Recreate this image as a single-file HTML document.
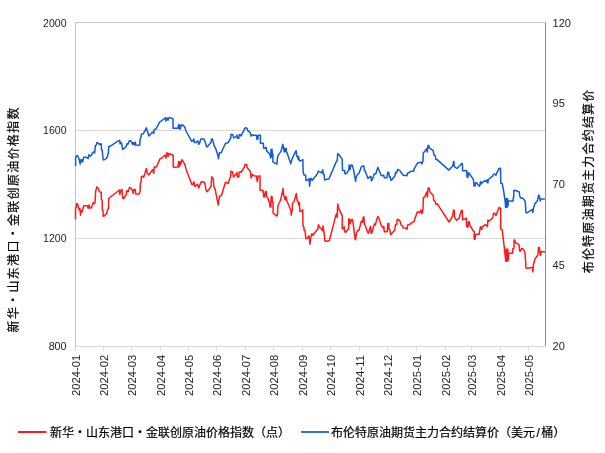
<!DOCTYPE html><html><head><meta charset="utf-8"><style>html,body{margin:0;padding:0;background:#fff;overflow:hidden}svg{display:block}</style></head><body><svg width="605" height="453" viewBox="0 0 605 453"><rect width="605" height="453" fill="#fff"/><g shape-rendering="crispEdges" stroke-width="1"><line x1="75" y1="130.5" x2="545" y2="130.5" stroke="#d9d9d9"/><line x1="75" y1="238.5" x2="545" y2="238.5" stroke="#d9d9d9"/><line x1="75" y1="346.5" x2="546" y2="346.5" stroke="#d9d9d9"/><line x1="75.5" y1="346" x2="75.5" y2="351" stroke="#d9d9d9"/><line x1="103.5" y1="346" x2="103.5" y2="351" stroke="#d9d9d9"/><line x1="131.5" y1="346" x2="131.5" y2="351" stroke="#d9d9d9"/><line x1="160.5" y1="346" x2="160.5" y2="351" stroke="#d9d9d9"/><line x1="188.5" y1="346" x2="188.5" y2="351" stroke="#d9d9d9"/><line x1="216.5" y1="346" x2="216.5" y2="351" stroke="#d9d9d9"/><line x1="245.5" y1="346" x2="245.5" y2="351" stroke="#d9d9d9"/><line x1="273.5" y1="346" x2="273.5" y2="351" stroke="#d9d9d9"/><line x1="302.5" y1="346" x2="302.5" y2="351" stroke="#d9d9d9"/><line x1="330.5" y1="346" x2="330.5" y2="351" stroke="#d9d9d9"/><line x1="359.5" y1="346" x2="359.5" y2="351" stroke="#d9d9d9"/><line x1="387.5" y1="346" x2="387.5" y2="351" stroke="#d9d9d9"/><line x1="416.5" y1="346" x2="416.5" y2="351" stroke="#d9d9d9"/><line x1="445.5" y1="346" x2="445.5" y2="351" stroke="#d9d9d9"/><line x1="471.5" y1="346" x2="471.5" y2="351" stroke="#d9d9d9"/><line x1="500.5" y1="346" x2="500.5" y2="351" stroke="#d9d9d9"/><line x1="528.5" y1="346" x2="528.5" y2="351" stroke="#d9d9d9"/><line x1="75" y1="22.5" x2="546" y2="22.5" stroke="#c4c4c4"/><line x1="75.5" y1="22" x2="75.5" y2="347" stroke="#c4c4c4"/><line x1="545.5" y1="23" x2="545.5" y2="346" stroke="#8c8c8c"/></g><path d="M75.6 166.0L75.6 157.9L76.5 155.8L77.7 155.8L78.3 157.3L79.3 159.8L80.2 164.1L80.8 159.8L81.4 161.6L82.0 159.8L82.7 162.0L83.6 157.3L86.4 157.3L88.2 158.6L88.8 154.8L89.8 155.8L90.7 156.1L92.6 153.0L93.8 151.8L94.7 153.0L95.3 145.9L96.3 145.0L96.9 142.5L97.8 142.8L99.7 144.6L100.3 143.7L101.2 144.0L101.5 149.8L102.2 150.2L102.8 156.0L103.1 159.7L104.0 160.0L106.2 158.5L107.4 157.0L107.7 154.8L108.3 153.9L108.7 146.4L109.9 146.4L119.2 140.3L119.8 140.9L120.1 144.0L120.7 142.4L121.6 143.0L122.6 149.2L123.2 149.2L126.3 146.4L126.9 143.7L127.8 144.4L129.5 140.5L130.9 140.9L132.6 144.4L133.1 142.7L133.9 142.7L134.4 144.9L135.3 142.2L135.7 144.9L139.7 145.3L140.1 139.1L141.0 137.4L141.4 134.3L143.2 133.8L145.0 130.7L146.3 127.7L147.2 130.7L148.9 136.0L152.5 132.1L153.8 133.4L154.2 129.4L155.2 129.2L156.1 129.0L159.7 121.9L161.1 121.3L165.2 117.7L165.8 121.0L166.3 118.5L167.4 118.0L168.0 120.2L168.8 118.3L169.3 117.4L173.0 118.8L173.0 128.2L177.9 128.2L178.7 124.6L179.3 129.0L179.8 124.9L180.4 129.0L180.9 126.0L182.0 124.6L184.8 127.1L185.4 128.9L185.9 131.0L191.6 141.2L192.9 140.7L193.8 139.0L194.5 142.5L196.0 142.5L197.8 140.7L198.7 144.3L199.6 143.0L200.9 139.0L204.0 139.0L205.3 142.5L206.6 146.9L207.5 146.5L211.0 142.5L211.5 139.0L212.4 139.0L213.2 141.6L214.1 145.6L215.9 149.1L218.1 156.2L218.5 158.8L219.4 152.7L221.2 152.7L225.5 143.2L228.2 142.7L230.8 137.9L230.8 134.4L232.6 134.4L233.9 137.9L236.1 136.6L237.0 135.2L237.4 138.3L238.8 138.3L239.2 134.8L240.5 134.8L241.0 136.1L242.7 132.6L244.1 130.4L244.5 128.6L245.8 127.7L247.2 128.6L247.6 130.4L250.2 132.6L251.1 136.1L252.4 134.8L253.8 135.2L256.4 135.2L256.9 139.2L257.7 139.7L258.2 135.2L260.4 135.2L260.4 143.2L263.3 143.3L263.6 148.3L265.0 148.3L265.6 147.3L266.3 147.9L266.6 150.9L269.9 154.2L270.6 157.9L271.1 149.3L271.6 157.0L272.0 149.3L272.3 153.9L272.9 153.9L272.9 161.8L276.9 164.2L277.5 157.5L278.5 154.6L280.9 151.6L282.8 144.3L283.5 147.3L284.2 151.9L284.6 148.6L285.0 151.5L285.4 148.6L286.2 148.6L286.5 152.2L287.2 153.2L290.8 163.8L291.1 161.8L292.5 157.9L296.1 150.6L296.8 156.5L297.7 157.2L298.1 159.2L298.6 156.3L299.4 161.0L301.2 160.6L302.9 159.7L303.1 171.2L303.8 174.7L305.6 175.2L306.0 180.5L306.9 180.5L309.1 178.7L309.6 186.2L310.4 179.1L311.3 178.2L312.2 180.5L317.5 173.8L318.1 171.2L321.5 172.9L322.8 169.9L323.2 174.3L324.1 174.3L324.6 180.0L329.0 178.7L336.2 161.9L337.2 160.9L337.7 153.5L339.2 155.0L342.2 159.4L342.5 170.4L344.7 170.4L344.9 173.8L346.2 173.8L348.7 170.4L349.2 164.9L350.1 169.4L351.1 164.9L352.1 164.9L353.6 169.9L355.6 181.3L356.0 177.8L357.5 174.3L359.0 173.3L361.5 166.4L363.9 165.9L364.4 170.4L365.4 171.4L367.9 178.3L369.9 176.8L370.9 176.3L371.4 180.8L372.4 179.3L374.4 173.8L375.9 173.8L377.0 169.9L378.0 167.4L379.3 170.9L381.3 175.8L383.8 175.3L384.3 177.8L386.8 177.8L387.8 172.3L388.8 172.3L389.3 176.8L390.3 176.8L390.9 180.3L392.2 179.3L394.7 176.3L395.7 172.3L396.7 172.8L397.7 169.4L400.2 170.9L401.2 172.8L403.4 175.3L407.0 175.7L407.4 173.5L410.9 171.3L413.6 171.3L414.0 169.1L417.6 162.9L419.8 162.5L421.1 162.1L422.0 163.8L422.9 161.6L423.3 152.8L424.9 151.4L426.4 148.9L427.4 151.9L427.9 145.9L428.7 145.4L429.4 147.9L430.9 148.9L433.3 150.9L433.8 154.4L435.3 155.9L435.8 159.4L436.8 159.4L448.9 170.1L452.4 166.2L453.1 165.0L453.5 161.6L453.9 161.6L454.3 166.6L457.0 168.5L459.7 165.8L460.5 165.0L461.6 163.5L462.4 163.5L462.6 170.8L465.5 170.8L466.7 170.5L467.0 177.0L467.8 177.4L468.4 172.8L469.2 173.2L470.1 175.1L472.8 178.2L473.6 180.5L474.0 185.9L475.2 185.9L475.5 182.8L476.7 182.8L478.3 185.1L479.6 186.3L480.6 181.5L481.3 183.9L482.0 183.2L482.6 182.2L485.3 180.5L486.3 181.9L487.3 179.9L487.9 182.9L488.3 179.5L492.6 176.2L493.5 174.3L495.2 174.3L495.9 175.2L498.8 168.6L500.5 168.3L500.8 183.2L502.2 183.5L503.8 191.8L505.3 203.0L505.6 207.4L506.0 199.0L506.4 207.4L506.8 198.6L507.2 207.0L507.6 198.8L508.0 206.0L508.4 201.0L513.2 201.0L513.3 197.4L513.8 197.2L513.8 190.5L515.1 190.2L516.2 190.8L519.3 192.0L519.7 196.2L520.9 198.2L522.8 198.2L525.1 200.9L525.5 205.5L525.9 212.5L527.0 212.9L532.5 209.4L532.8 212.5L533.6 207.8L534.8 204.0L537.5 200.5L538.6 195.1L539.4 196.2L540.2 200.9L541.0 198.9L544.8 198.9" fill="none" stroke="#135bd2" stroke-width="1.5" stroke-linejoin="round"/><path d="M75.5 219.2L75.5 208.0L76.2 207.1L76.6 203.7L77.4 203.7L78.3 206.7L79.2 209.7L80.0 208.9L80.5 215.3L80.9 210.6L81.8 212.3L82.6 209.7L83.5 206.3L83.9 205.8L87.4 205.8L88.2 208.4L89.1 205.0L89.9 208.0L91.2 208.0L93.4 202.4L94.3 203.7L95.1 202.0L95.6 191.6L96.8 186.9L97.7 187.7L99.4 191.2L100.3 192.2L101.2 192.3L101.4 199.6L102.2 200.4L102.3 210.0L103.1 210.4L103.2 216.2L103.9 216.2L107.0 213.1L107.3 210.4L108.5 208.5L108.7 198.5L119.3 190.0L119.9 194.6L120.7 190.7L122.0 189.2L122.8 198.5L123.6 198.5L126.3 194.6L126.7 190.7L127.4 191.0L128.2 191.8L129.5 187.4L130.9 188.2L132.6 190.5L133.1 193.5L133.9 189.6L135.3 189.6L135.7 194.0L139.2 194.0L140.1 191.3L140.3 183.8L141.0 182.1L141.4 176.8L142.8 176.3L143.7 177.2L145.0 173.2L146.3 168.4L147.2 173.2L148.9 175.0L152.5 169.7L153.8 173.2L154.2 167.1L156.4 167.1L160.0 158.8L161.1 158.5L165.2 155.2L166.0 158.0L166.9 152.7L167.7 153.8L168.2 156.3L169.1 153.5L173.2 155.2L173.2 167.1L174.3 167.3L177.9 167.1L178.7 161.5L179.3 166.8L180.1 161.5L180.6 164.6L182.0 159.6L184.8 164.3L186.0 168.9L191.7 184.3L192.6 184.8L193.9 181.7L194.8 186.5L197.5 184.3L198.8 187.9L199.7 185.2L201.4 181.7L204.1 182.1L205.0 183.9L205.9 189.6L207.0 191.8L208.5 190.1L211.2 186.1L211.6 176.8L212.5 177.7L213.4 179.5L213.8 186.5L215.1 189.2L218.2 205.1L219.5 196.2L221.3 195.8L225.5 182.3L228.2 183.2L230.8 175.7L230.8 171.2L232.6 171.7L233.5 177.0L236.1 173.9L237.0 172.6L237.4 177.0L238.8 177.0L239.2 172.1L240.5 171.7L241.4 172.1L243.2 168.6L244.5 167.3L244.9 164.6L246.7 164.6L247.2 167.7L250.2 171.2L251.1 177.9L252.4 174.3L253.8 175.7L256.4 176.1L257.3 181.8L258.2 176.1L260.0 176.1L260.0 190.2L263.1 190.4L263.7 197.0L264.6 197.0L265.4 191.6L266.2 191.6L266.6 196.2L268.5 199.7L269.7 203.5L270.0 207.0L270.8 207.0L271.2 196.6L272.0 196.6L272.4 202.0L273.1 202.4L273.1 213.2L276.6 215.9L277.4 215.1L277.8 206.6L278.9 203.5L280.5 200.5L282.4 192.0L283.2 188.5L283.6 195.0L284.3 196.6L285.1 199.7L285.9 196.6L286.7 200.5L290.9 210.5L291.3 215.1L292.1 210.5L292.5 203.5L294.0 201.6L296.3 193.5L297.1 200.5L298.3 201.6L298.6 205.1L299.4 202.4L299.8 211.3L300.8 211.3L302.7 209.8L303.0 225.8L304.0 227.3L304.0 230.3L305.0 230.3L305.9 238.7L307.4 238.2L308.9 235.7L309.9 244.2L310.9 237.2L311.9 233.8L312.9 235.3L317.9 228.8L318.4 224.8L319.4 226.8L321.3 228.8L322.6 230.8L323.0 225.8L323.8 230.8L324.3 234.3L324.8 240.7L326.3 241.2L329.3 240.7L335.7 215.9L336.7 213.9L337.2 217.4L337.7 204.0L338.5 207.9L342.2 215.9L342.2 228.8L343.2 228.8L344.2 226.8L344.7 231.8L345.7 232.3L348.6 228.8L348.8 218.9L349.6 218.9L350.1 223.8L351.6 219.4L352.4 219.4L353.1 222.8L355.1 239.2L355.6 239.7L356.5 232.8L357.5 230.8L359.0 230.3L361.4 220.9L362.4 222.4L363.4 216.9L363.9 216.9L364.4 224.4L365.4 225.9L367.9 232.8L368.4 233.3L369.9 227.8L370.7 226.4L371.1 233.3L371.9 232.8L374.4 223.9L375.4 224.9L376.6 219.9L377.8 216.4L378.8 217.9L381.3 225.9L382.8 226.8L383.3 228.3L383.8 226.4L384.3 231.8L387.3 231.8L387.8 223.4L388.8 223.4L389.0 229.3L389.7 229.3L390.7 234.8L392.7 232.3L394.7 230.3L395.5 224.4L396.7 224.4L397.2 219.4L398.2 219.4L400.2 221.4L401.2 225.4L402.7 225.9L402.9 227.8L406.6 228.3L407.1 229.3L407.6 224.9L409.6 224.4L413.1 221.9L414.0 221.7L414.5 219.7L417.4 211.8L419.9 212.8L420.9 209.8L421.9 213.8L422.9 210.3L423.4 197.9L424.9 196.4L426.9 191.9L427.4 196.9L428.1 187.9L429.1 187.9L429.9 191.9L433.3 195.4L433.6 199.9L435.3 201.8L435.8 204.3L437.3 203.8L449.1 222.0L452.6 216.2L453.5 210.1L454.1 210.1L454.6 217.6L456.6 220.2L459.2 218.4L459.7 215.8L461.4 210.5L462.3 210.5L462.6 219.8L464.5 219.3L466.3 218.0L466.7 226.4L467.9 227.3L468.5 221.5L469.4 222.0L469.8 225.1L473.4 231.2L474.2 231.2L474.2 239.2L475.1 239.2L475.6 234.3L479.1 234.3L480.4 226.8L481.7 229.5L482.2 226.8L485.3 224.7L486.6 225.6L487.5 226.5L487.9 219.9L488.8 221.2L492.8 217.7L493.7 213.2L494.6 213.2L495.9 215.4L499.0 207.5L500.7 208.4L500.7 229.1L502.1 229.6L503.4 239.7L505.3 257.0L505.8 261.3L506.2 249.2L506.6 261.3L507.0 249.0L507.4 261.0L507.8 249.2L508.2 260.6L508.5 253.3L512.6 253.3L512.7 248.8L513.9 248.2L514.1 240.0L514.8 240.0L515.3 242.7L519.0 244.6L519.7 251.1L520.4 251.1L521.8 248.3L523.2 249.2L525.0 252.5L525.5 259.9L526.0 268.3L527.8 268.3L532.5 267.3L532.9 272.0L533.4 265.0L534.8 259.4L538.0 254.8L538.5 247.4L539.4 247.8L540.4 255.3L541.3 251.6L545.0 252.0" fill="none" stroke="#ff1a1a" stroke-width="1.5" stroke-linejoin="round"/><g font-family="'Liberation Sans', Arial, sans-serif" font-size="11" fill="#222"><text x="66.5" y="27" text-anchor="end" textLength="23.4" lengthAdjust="spacingAndGlyphs">2000</text><text x="66.5" y="134" text-anchor="end" textLength="23.4" lengthAdjust="spacingAndGlyphs">1600</text><text x="66.5" y="242" text-anchor="end" textLength="23.4" lengthAdjust="spacingAndGlyphs">1200</text><text x="66.5" y="350" text-anchor="end" textLength="17.8" lengthAdjust="spacingAndGlyphs">800</text><text x="552.6" y="27">120</text><text x="552.6" y="107">95</text><text x="552.6" y="188">70</text><text x="552.6" y="269">45</text><text x="552.6" y="350">20</text><text transform="translate(80.1,354.9) rotate(-90)" text-anchor="end" textLength="41" lengthAdjust="spacingAndGlyphs">2024-01</text><text transform="translate(108.1,354.9) rotate(-90)" text-anchor="end" textLength="41" lengthAdjust="spacingAndGlyphs">2024-02</text><text transform="translate(136.1,354.9) rotate(-90)" text-anchor="end" textLength="41" lengthAdjust="spacingAndGlyphs">2024-03</text><text transform="translate(165.1,354.9) rotate(-90)" text-anchor="end" textLength="41" lengthAdjust="spacingAndGlyphs">2024-04</text><text transform="translate(193.1,354.9) rotate(-90)" text-anchor="end" textLength="41" lengthAdjust="spacingAndGlyphs">2024-05</text><text transform="translate(221.1,354.9) rotate(-90)" text-anchor="end" textLength="41" lengthAdjust="spacingAndGlyphs">2024-06</text><text transform="translate(250.1,354.9) rotate(-90)" text-anchor="end" textLength="41" lengthAdjust="spacingAndGlyphs">2024-07</text><text transform="translate(278.1,354.9) rotate(-90)" text-anchor="end" textLength="41" lengthAdjust="spacingAndGlyphs">2024-08</text><text transform="translate(307.1,354.9) rotate(-90)" text-anchor="end" textLength="41" lengthAdjust="spacingAndGlyphs">2024-09</text><text transform="translate(335.1,354.9) rotate(-90)" text-anchor="end" textLength="41" lengthAdjust="spacingAndGlyphs">2024-10</text><text transform="translate(364.1,354.9) rotate(-90)" text-anchor="end" textLength="41" lengthAdjust="spacingAndGlyphs">2024-11</text><text transform="translate(392.1,354.9) rotate(-90)" text-anchor="end" textLength="41" lengthAdjust="spacingAndGlyphs">2024-12</text><text transform="translate(421.1,354.9) rotate(-90)" text-anchor="end" textLength="41" lengthAdjust="spacingAndGlyphs">2025-01</text><text transform="translate(450.1,354.9) rotate(-90)" text-anchor="end" textLength="41" lengthAdjust="spacingAndGlyphs">2025-02</text><text transform="translate(476.1,354.9) rotate(-90)" text-anchor="end" textLength="41" lengthAdjust="spacingAndGlyphs">2025-03</text><text transform="translate(505.1,354.9) rotate(-90)" text-anchor="end" textLength="41" lengthAdjust="spacingAndGlyphs">2025-04</text><text transform="translate(533.1,354.9) rotate(-90)" text-anchor="end" textLength="41" lengthAdjust="spacingAndGlyphs">2025-05</text></g><g font-family="'Liberation Sans', 'Noto Sans CJK SC', sans-serif" font-size="12" fill="#000" stroke="#000" stroke-width="0.2"><text transform="translate(17.5,332.4) rotate(-90)" letter-spacing="1.3">新华・山东港口・金联创原油价格指数</text><text transform="translate(592.5,273.3) rotate(-90)" letter-spacing="1.2">布伦特原油期货主力合约结算价</text><line x1="18" y1="432" x2="46.5" y2="432" stroke="#ff1a1a" stroke-width="2"/><text x="50" y="436.5">新华・山东港口・金联创原油价格指数（点）</text><line x1="301" y1="432" x2="329" y2="432" stroke="#2d74d8" stroke-width="2"/><text x="331" y="436.5">布伦特原油期货主力合约结算价（美元<tspan dx="1.4">/</tspan><tspan dx="1.6">桶）</tspan></text></g></svg></body></html>
